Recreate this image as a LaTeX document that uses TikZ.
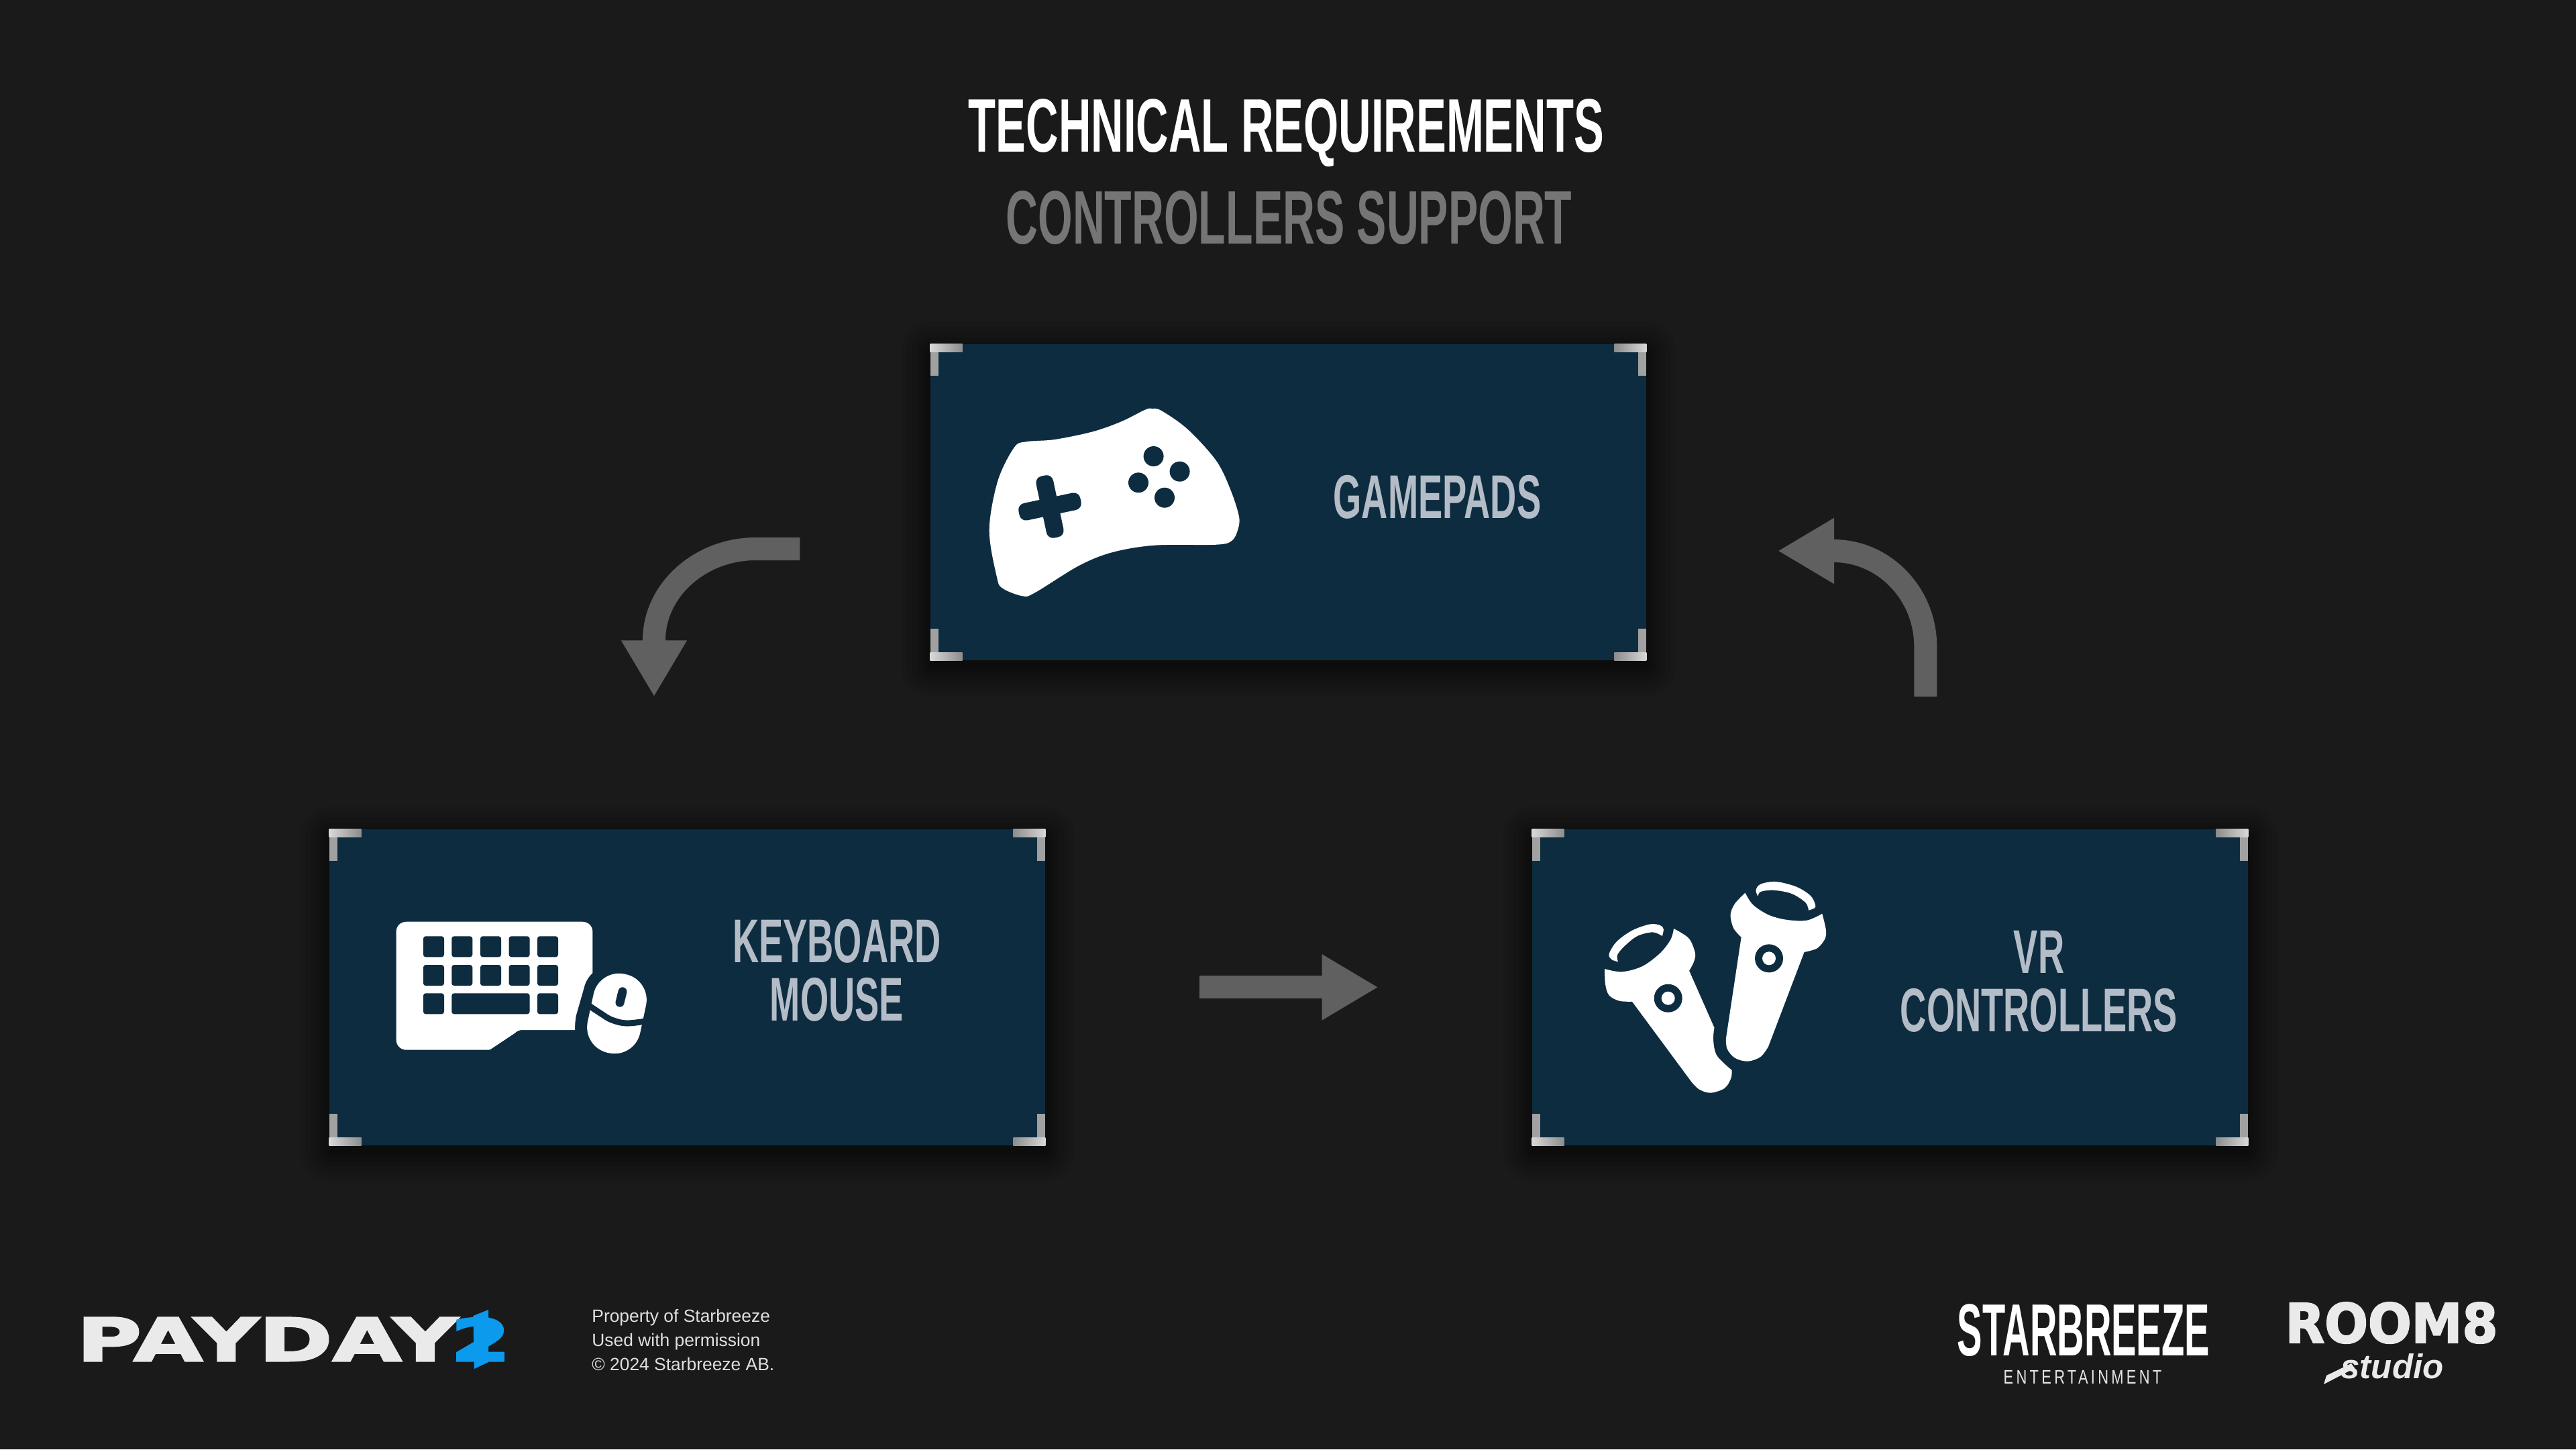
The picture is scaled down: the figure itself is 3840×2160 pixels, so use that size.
\documentclass[tikz,border=0pt]{standalone}
\usepackage{fontspec}
\usetikzlibrary{calc,arrows.meta}
\setmainfont{Liberation Sans}
\newfontfamily\titlefontA{Liberation Sans}[FakeStretch=0.594]
\newfontfamily\titlefontB{Liberation Sans}[FakeStretch=0.587]
\newfontfamily\labelfont{Liberation Sans}[FakeStretch=0.59]
\newfontfamily\sbfont{Liberation Sans}[FakeStretch=0.51]
\newfontfamily\entfont{Liberation Sans}[FakeStretch=0.75,LetterSpace=14.7]
\newfontfamily\paydayfont{DejaVu Sans}[FakeStretch=1.51,FakeBold=3.5]
\newfontfamily\roomfont{DejaVu Sans}[FakeStretch=0.94,FakeBold=2.5]
\definecolor{bgcol}{HTML}{1A1A1A}
\definecolor{cardcol}{HTML}{0D2C40}
\definecolor{labelcol}{HTML}{B4BDC7}
\definecolor{subcol}{HTML}{757575}
\definecolor{arrowcol}{HTML}{606060}
\definecolor{bluecol}{HTML}{0C9AEC}
\definecolor{logocol}{HTML}{EAEAEA}
\tikzset{
  cardbox/.style={fill=cardcol,draw=none,inner sep=0pt,minimum width=533.5pt,minimum height=235.5pt},
  cardlabel/.style={text=labelcol,inner sep=0pt,align=center,font={\labelfont\bfseries\fontsize{46}{43.5}\selectfont}},
  flowarrow/.style={draw=arrowcol,line width=17pt,-{Triangle[length=42pt,width=46pt,fill=arrowcol]}},
  icon/.style={fill=white},
  iconcut/.style={fill=cardcol},
  footnote/.style={text=white!88!black,inner sep=0pt,align=left,font={\fontsize{13.2}{18}\selectfont}}
}
\newcommand\cardshadow[4]{%
  \foreach \grow in {44,36,28,20,14,8,4,1}{%
    \fill[black,opacity=.065,rounded corners=\grow*0.5pt]
      (#1-\grow,#2-\grow+10) rectangle (#3+\grow,#4+\grow+10);
  }}
\newcommand\cardcorners[1]{%
  \fill[white!63!black] (#1.north west) rectangle ($(#1.north west)+(12,47)$);
  \fill[white!63!black] (#1.north east) rectangle ($(#1.north east)+(-12,47)$);
  \fill[white!63!black] (#1.south west) rectangle ($(#1.south west)+(12,-47)$);
  \fill[white!63!black] (#1.south east) rectangle ($(#1.south east)+(-12,-47)$);
  \path[left color=white!85!black,middle color=white!48!black,right color=white!55!black] (#1.north west) rectangle ($(#1.north west)+(48,12)$);
  \path[left color=white!85!black,middle color=white!48!black,right color=white!55!black] (#1.south west) rectangle ($(#1.south west)+(48,-12)$);
  \path[right color=white!85!black,middle color=white!48!black,left color=white!55!black] (#1.north east) rectangle ($(#1.north east)+(-48,12)$);
  \path[right color=white!85!black,middle color=white!48!black,left color=white!55!black] (#1.south east) rectangle ($(#1.south east)+(-48,-12)$);
}
\begin{document}
\begin{tikzpicture}[x=0.5pt,y=-0.5pt]
\useasboundingbox (0,0) rectangle (3840,2160);
\fill[bgcol] (0,0) rectangle (3840,2160);

% titles
\node[anchor=base,inner sep=0pt,text=white,font={\titlefontA\bfseries\fontsize{56.5}{60}\selectfont}] (title) at (1917.5,226.7) {TECHNICAL REQUIREMENTS};
\node[anchor=base,inner sep=0pt,text=subcol,font={\titlefontB\bfseries\fontsize{56.5}{60}\selectfont}] (subtitle) at (1921.5,363) {CONTROLLERS SUPPORT};

% shadows
\cardshadow{1387}{513}{2454}{984}
\cardshadow{491}{1236}{1558}{1707}
\cardshadow{2284}{1236}{3351}{1707}

% cards
\node[cardbox] (gamepadcard) at (1920.5,748.5) {};
\node[cardbox] (keyboardcard) at (1024.5,1471.5) {};
\node[cardbox] (vrcard) at (2817.5,1471.5) {};
\cardcorners{gamepadcard}
\cardcorners{keyboardcard}
\cardcorners{vrcard}

% card labels
\node[cardlabel,anchor=base] (gamepadlabel) at (2142.5,772) {GAMEPADS};
\node[cardlabel] (keyboardlabel) at (1247.5,1446.5) {KEYBOARD\\MOUSE};
\node[cardlabel] (vrlabel) at (3039.5,1463) {VR\\CONTROLLERS};

% gamepad icon
\fill[icon] plot[smooth cycle,tension=0.55] coordinates {
 (1717.5,609) (1731.7,612.3) (1770.6,640) (1813,686.7) (1834.3,730) (1847,770) (1845,790) (1836,806) (1813,811.7)
 (1721,812.7) (1657.4,823.3) (1607.8,843.3) (1542.7,883.3) (1524.3,888.3) (1494.5,876.7) (1486,860)
 (1474.7,790) (1487.4,716.7) (1512,666.7) (1530,658.3) (1572.4,655) (1629,643.3) (1671.5,628.3) (1707,610.7)};
\begin{scope}[shift={(1565,755)},rotate=12]
 \fill[iconcut,rounded corners=5pt] (-13,-47) rectangle (13,47);
 \fill[iconcut,rounded corners=5pt] (-47,-13) rectangle (47,13);
\end{scope}
\fill[iconcut] (1719.6,680) circle[radius=15];
\fill[iconcut] (1758.6,702.7) circle[radius=15];
\fill[iconcut] (1697,719.3) circle[radius=15];
\fill[iconcut] (1736,741.7) circle[radius=15];

% keyboard icon
\fill[icon] (590.6,1389) .. controls (590.6,1380) and (597,1373.7) .. (606,1373.7)
 -- (868,1373.7) .. controls (877,1373.7) and (883.4,1380) .. (883.4,1389)
 -- (883.4,1450) .. controls (875,1458) and (872,1466) .. (870.4,1473)
 -- (858.9,1513) .. controls (857.5,1520) and (857,1528) .. (857,1535)
 -- (778.5,1535) .. controls (774,1535) and (770,1537) .. (767,1540)
 -- (734.5,1561.7) .. controls (732,1563.5) and (730,1564.7) .. (728.8,1564.7)
 -- (606,1564.7) .. controls (597,1564.7) and (590.6,1558) .. (590.6,1549) -- cycle;
\foreach \kx/\ky/\kw in {631/1395.3/31,673.3/1395.3/31,716/1395.3/31,758.6/1395.3/31,801/1395.3/31,
                         631/1438/31,673.3/1438/31,716/1438/31,758.6/1438/31,801/1438/31,
                         631/1480.3/31,673.3/1480.3/116.3,801/1480.3/31}{
  \fill[iconcut,rounded corners=1.8pt] (\kx,\ky) rectangle (\kx+\kw,\ky+31);
}
\begin{scope}[shift={(919.5,1510.5)},rotate=-12]
 \fill[icon,rounded corners=19.5pt] (-40,-60) rectangle (40,60);
\end{scope}
\draw[cardcol,line width=4.5pt] plot[smooth,tension=0.6] coordinates {(874,1496) (895,1510) (912,1520) (935,1525) (968,1521)};
\draw[cardcol,line width=6.5pt,line cap=round] (928,1477.8) -- (924,1494.2);

% VR controllers icon
\fill[icon] plot[smooth,tension=0.55] coordinates {(2392.1,1444) (2417.8,1448.3) (2448.4,1440) (2475.2,1420) (2490.5,1400) (2495,1384)}
 -- plot[smooth,tension=0.55] coordinates {(2495,1384) (2517.3,1398.3) (2526.8,1420) (2525,1433.3) (2518,1446.7)}
 -- (2555.5,1531.7)
 -- plot[smooth,tension=0.55] coordinates {(2555.5,1531.7) (2554,1550) (2559.4,1573.3) (2581.6,1595)}
 -- plot[smooth,tension=0.55] coordinates {(2581.6,1595) (2580.4,1606.7) (2570.9,1621.7) (2549.8,1628.7) (2532.6,1623.3) (2521,1611.7)}
 -- (2433,1492.7)
 -- plot[smooth,tension=0.55] coordinates {(2433,1492.7) (2414,1491.7) (2398.6,1483.3) (2393,1466.7) (2392.1,1444)} -- cycle;
\fill[icon] plot[smooth,tension=0.55] coordinates {(2412,1433.3) (2402.5,1430) (2398.6,1421.7) (2410,1403.3) (2433,1386.7) (2459.9,1377.3) (2475.2,1379.3) (2479.8,1385) (2477.9,1395)}
 -- plot[smooth,tension=0.55] coordinates {(2477.9,1395) (2463.7,1389.3) (2440.7,1395) (2421.6,1410) (2410.9,1423.3) (2412,1433.3)} -- cycle;
\fill[iconcut] (2486.7,1487.7) circle[radius=21];
\fill[icon] (2486.7,1487.7) circle[radius=10];
\fill[icon] plot[smooth,tension=0.55] coordinates {(2601.5,1330.7) (2613,1348.3) (2635.9,1363.3) (2662.7,1370.7) (2693.3,1371.7) (2716.3,1361.7)}
 -- plot[smooth,tension=0.55] coordinates {(2716.3,1361.7) (2722,1386.7) (2720,1400) (2708.6,1413.3) (2689.5,1419)}
 -- (2635.9,1560)
 -- plot[smooth,tension=0.55] coordinates {(2635.9,1560) (2624.4,1575) (2605.3,1581.7) (2586.2,1576.7) (2574.7,1563.3) (2572.8,1548.3)}
 -- (2595.7,1396.7)
 -- plot[smooth,tension=0.55] coordinates {(2595.7,1396.7) (2584.2,1383.3) (2579.6,1363.3) (2586.2,1346.7) (2601.5,1330.7)} -- cycle;
\fill[icon] plot[smooth,tension=0.55] coordinates {(2620.6,1335.7) (2617.5,1326.7) (2624.4,1317.7) (2647.4,1314) (2678,1321.7) (2699,1335) (2706,1348.3) (2704.8,1353.3) (2696,1356.7)}
 -- plot[smooth,tension=0.55] coordinates {(2696,1356.7) (2691.4,1345) (2670.4,1331.7) (2643.6,1326.7) (2624.4,1329) (2620.6,1335.7)} -- cycle;
\fill[iconcut] (2637,1428.3) circle[radius=21];
\fill[icon] (2637,1428.3) circle[radius=10];

% arrows
\coordinate (arrowAstart) at (1192.3,818);
\coordinate (arrowAbend) at (1126.7,818);
\coordinate (arrowAbase) at (975,954.3);
\coordinate (arrowAtip) at (975,1038.3);
\draw[flowarrow] (arrowAstart) -- (arrowAbend) .. controls (1043.6,818) and (975,879.5) .. (arrowAbase) -- (arrowAtip);
\coordinate (arrowBstart) at (1788,1471.3);
\coordinate (arrowBtip) at (2054.7,1471.3);
\draw[flowarrow] (arrowBstart) -- (arrowBtip);
\coordinate (arrowCstart) at (2870.3,1038.3);
\coordinate (arrowCbend) at (2870.3,963.3);
\coordinate (arrowCbase) at (2733.3,821);
\coordinate (arrowCtip) at (2650,821);
\draw[flowarrow] (arrowCstart) -- (arrowCbend) .. controls (2870.3,885) and (2808.6,821) .. (arrowCbase) -- (arrowCtip);

% footer left
\node[anchor=base,inner sep=0pt,text=logocol,font={\paydayfont\bfseries\fontsize{44}{44}\selectfont}] (payday) at (398,2028) {PAYDAY};
\node[anchor=base,inner sep=0pt,text=bluecol,font={\paydayfont\bfseries\fontsize{43}{44}\selectfont}] (paydaytwo) at (716.5,2028) {2};
\fill[bluecol] (705.4,1961) -- (728,1952) -- (728,2030) -- (707,2040) -- cycle;
\node[footnote,anchor=west] (legal) at (882,1997) {Property of Starbreeze\\Used with permission\\© 2024 Starbreeze AB.};

% footer right
\node[anchor=base,inner sep=0pt,text=white,font={\sbfont\bfseries\fontsize{55}{55}\selectfont}] (starbreeze) at (3106,2020) {STARBREEZE};
\node[anchor=base,inner sep=0pt,text=white!90!black,font={\entfont\fontsize{14.6}{15}\selectfont}] (entertainment) at (3104.5,2062) {ENTERTAINMENT};
\node[anchor=base,inner sep=0pt,text=logocol,font={\roomfont\bfseries\fontsize{40.5}{41}\selectfont}] (room) at (3565,2001) {ROOM8};
\node[anchor=base,inner sep=0pt,text=logocol,font={\bfseries\itshape\fontsize{25.5}{26}\selectfont}] (studio) at (3566,2054) {studio};
\fill[logocol] (3464,2063) -- (3468,2050) -- (3505,2032) -- (3510,2039) -- cycle;
\end{tikzpicture}
\end{document}
